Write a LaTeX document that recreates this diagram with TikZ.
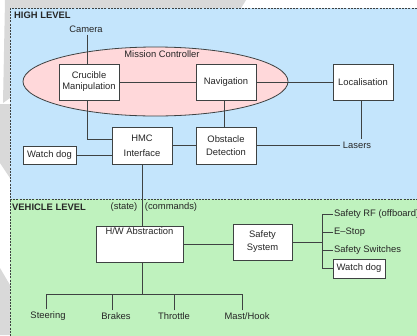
\documentclass[tikz,border=0pt]{standalone}
\usepackage{fontspec}
\setmainfont{Liberation Sans}
\usetikzlibrary{shapes.geometric}
\definecolor{hlblue}{RGB}{196,229,252}
\definecolor{vlgreen}{RGB}{191,242,190}
\definecolor{mcpink}{RGB}{255,216,218}
\definecolor{wmgray}{RGB}{217,217,217}
\definecolor{linegray}{RGB}{62,66,66}
\begin{document}
\begin{tikzpicture}[x=1pt,y=-1pt,
    font=\fontsize{9.4}{11}\selectfont,
    every node/.style={text=black!85},
    box/.style={draw=linegray,fill=white,line width=0.8pt,minimum width=60pt,minimum height=36pt,align=center,inner sep=1pt},
    lbl/.style={inner sep=2pt},
    head/.style={anchor=west,inner sep=1pt,font=\fontsize{9.4}{11}\selectfont\bfseries},
    link/.style={draw=linegray,line width=0.9pt},
    frame/.style={draw=linegray,dash pattern=on 2pt off 1.2pt,line width=0.7pt}]
  \useasboundingbox (0,0) rectangle (417,335);
  \fill[wmgray] (5,0) -- (246,0) -- (240,10) -- (10,10) -- (10,98) -- (3,103) -- cycle;
  \fill[wmgray] (0,104) -- (10,104) -- (10,178) -- (0,163) -- cycle;
  \fill[wmgray] (0,268) -- (10,285) -- (10,335) -- (0,335) -- cycle;
  \fill[hlblue] (10,8) rectangle (420,199);
  \fill[vlgreen] (10,199) rectangle (420,338);
  \draw[frame] (420,8) -- (10,8) -- (10,338);
  \draw[frame] (10,199) -- (420,199);

  \node[head] (hl) at (13,15) {HIGH LEVEL};
  \node[lbl] (cam) at (86,29) {Camera};
  \node[ellipse,draw=linegray,fill=mcpink,line width=0.8pt,minimum width=265pt,minimum height=69pt,inner sep=0pt] (mission) at (155.5,81.5) {};
  \node[lbl] (mctext) at (162,54) {Mission Controller};
  \node[box] (cruc) at (89,82) {Crucible\\Manipulation};
  \node[box] (nav) at (226,82) {Navigation};
  \node[box] (loc) at (363,82) {Localisation};
  \node[box,minimum height=37pt] (hmc) at (142,145.5) {HMC\\[4pt]Interface};
  \node[box,minimum height=37pt] (obst) at (226,145.5) {Obstacle\\[2pt]Detection};
  \node[box,minimum width=53pt,minimum height=18pt] (wd) at (49.5,155) {Watch dog};
  \node[lbl,inner sep=3pt] (las) at (357,145) {Lasers};

  \node[head] (vl) at (11,207) {VEHICLE LEVEL};
  \node[lbl] (st) at (124,207) {(state)};
  \node[lbl] (cmd) at (171,207) {(commands)};
  \node[box,minimum width=87pt,label={[anchor=north,inner sep=2pt]north:H/W Abstraction}] (hw) at (139.5,244) {};
  \node[box,minimum width=59pt] (safe) at (262.5,242) {Safety\\[2pt]System};
  \node[lbl,anchor=west,inner sep=1pt] (rf) at (333,214) {Safety RF (offboard)};
  \node[lbl,anchor=west,inner sep=1pt] (estop) at (333,232) {E–Stop};
  \node[lbl,anchor=west,inner sep=1pt] (sw) at (333,250) {Safety Switches};
  \node[box,minimum width=52pt,minimum height=19pt] (wd2) at (359,268.5) {Watch dog};
  \coordinate (sbus) at (322,242);
  \node[lbl] (steer) at (48,316) {Steering};
  \node[lbl] (brk) at (116,316) {Brakes};
  \node[lbl] (thr) at (174,316) {Throttle};
  \node[lbl] (mast) at (247,316) {Mast/Hook};
  \coordinate (hwbus) at (142,294);

  \draw[link] ([xshift=1pt]cam.south) -- ([xshift=1pt]cam.south |- cruc.north);
  \draw[link] (cruc) -- (nav);
  \draw[link] (nav) -- (loc);
  \draw[link] ([xshift=-2pt]cruc.south) |- ([yshift=6.5pt]hmc.west);
  \draw[link] ([xshift=-2pt]nav.south) -- ([xshift=-2pt]obst.north);
  \draw[link] (hmc) -- (obst);
  \draw[link] (wd) -- (wd -| hmc.west);
  \draw[link] (obst) -- (obst -| las.west);
  \draw[link] ([xshift=-2pt]loc.south) -- ([xshift=-2pt]loc.south |- las.north);
  \draw[link] (hmc.south) -- (hmc.south |- hw.north);
  \draw[link] (hw) -- (hw -| safe.west);
  \draw[link] (safe) -- (sbus);
  \draw[link] (rf.west) -| (sbus);
  \draw[link] (estop.west) -| (sbus);
  \draw[link] (sw.west) -| (sbus);
  \draw[link] (wd2.west) -| (sbus);
  \draw[link] (hmc.south |- hw.south) -- (hwbus);
  \draw[link] ([xshift=-2pt]steer.north) |- (hwbus);
  \draw[link] ([xshift=-4pt]brk.north) |- (hwbus);
  \draw[link] (thr.north) |- (hwbus);
  \draw[link] ([xshift=-5pt]mast.north) |- (hwbus);
\end{tikzpicture}
\end{document}
